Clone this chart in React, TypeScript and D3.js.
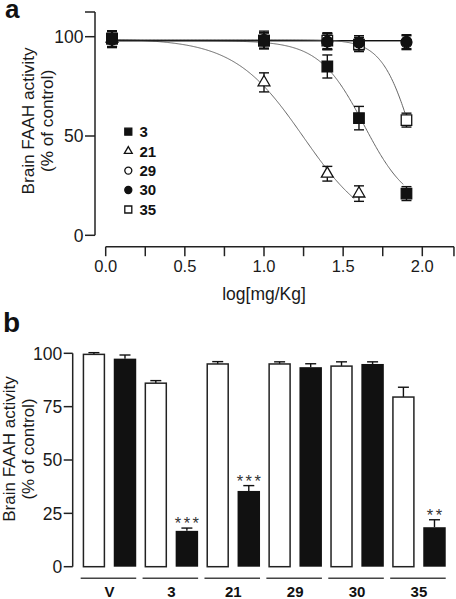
import React from "react";
import * as d3 from "d3";

// ---------- Panel a data ----------
const doses = [0.04, 1.0, 1.4, 1.6, 1.9];
const seriesNames = ["3", "21", "29", "30", "35"];
const s3 = [99, 98, 85, 59, 21];
const e3 = [4, 4, 5.8, 5.9, 3.5];
const s21 = [99, 77, 31, 21];
const e21 = [4, 4.8, 3.7, 3.9];
const s29 = [98.5, 98, 97.5, 97, 97];
const e29 = [4, 4, 4, 3.5, 3.5];
const s30 = [99, 98.5, 97.5, 97, 97.5];
const e30 = [4, 4.3, 4, 3.5, 3.5];
const s35 = [99, 98, 98, 96, 58];
const e35 = [4, 4, 4, 3.5, 3.5];
// fitted sigmoid (Hill) parameters per series
const fitTop = [98, 99, 98, 98, 98.5];
const fitBottom = [13, 0, 98, 98, 0];
const fitLogIC50 = [1.632, 1.249, 1, 1, 1.94];
const fitHill = [3.06, 1.99, 1, 1, 4.5];
const fitEnd = [1.88, 1.57, 1.91, 1.91, 1.89];
const xTicksA = [0, 0.25, 0.5, 0.75, 1.0, 1.25, 1.5, 1.75, 2.0, 2.2];
const xTickLabelsA = [0, 0.5, 1.0, 1.5, 2.0];
const yTicksA = [0, 50, 100];

// ---------- Panel b data ----------
const groups = ["V", "3", "21", "29", "30", "35"];
const whiteVals = [99.5, 86, 95, 95, 94, 79.5];
const whiteErr = [0.8, 1.2, 1.1, 1.0, 2.0, 4.6];
const blackVals = [97.5, 16.8, 35.5, 93.5, 95, 18.5];
const blackErr = [1.7, 1.3, 2.5, 1.6, 1.0, 3.5];
const stars = ["", "***", "***", "", "", "**"];
const yTicksB = [0, 25, 50, 75, 100];

const FONT = "'Liberation Sans', Arial, Helvetica, sans-serif";

type Marker = "fsq" | "tri" | "ocirc" | "fcirc" | "osq";
const markerOf: Marker[] = ["fsq", "tri", "ocirc", "fcirc", "osq"];

function symbolPath(m: Marker, scale: number) {
  if (m === "fsq" || m === "osq") return d3.symbol(d3.symbolSquare, 100 * scale * scale)()!;
  if (m === "tri") return d3.symbol(d3.symbolTriangle, 55 * scale * scale)()!;
  return d3.symbol(d3.symbolCircle, 80 * scale * scale)()!;
}

function MarkerShape({ m, x, y, scale }: { m: Marker; x: number; y: number; scale: number }) {
  const filled = m === "fsq" || m === "fcirc";
  return (
    <path
      d={symbolPath(m, scale)}
      transform={`translate(${x},${y})`}
      fill={filled ? "#111" : "#fff"}
      stroke="#111"
      strokeWidth={1.3}
    />
  );
}

export default function App() {
  // Panel a scales
  const xA = d3.scaleLinear().domain([0, 2]).range([105.7, 422.3]);
  const yA = d3.scaleLinear().domain([0, 100]).range([235.3, 36.7]);
  const axisYA = 246.7;
  const axisXA = 95;

  const seriesVals = [s3, s21, s29, s30, s35];
  const seriesErr = [e3, e21, e29, e30, e35];

  const hill = (i: number, x: number) =>
    fitBottom[i] + (fitTop[i] - fitBottom[i]) / (1 + Math.pow(10, (x - fitLogIC50[i]) * fitHill[i]));

  const line = d3
    .line<[number, number]>()
    .x((d) => xA(d[0]))
    .y((d) => yA(d[1]));

  const fitPaths = seriesNames.map((_, i) => {
    const pts: [number, number][] = d3.range(doses[0], fitEnd[i], 0.005).map((x) => [x, hill(i, x)]);
    pts.push([fitEnd[i], hill(i, fitEnd[i])]);
    return line(pts)!;
  });

  const drawOrder = [4, 2, 3, 1, 0];

  // Panel b scales
  const xB = d3.scaleBand<string>().domain(groups).range([78.5, 449.9]).paddingInner(0.135).paddingOuter(0.0675);
  const xSub = d3.scaleBand<string>().domain(["w", "b"]).range([0, xB.bandwidth()]).paddingInner(0.277);
  const yB = d3.scaleLinear().domain([0, 100]).range([566.7, 353.3]);
  const axisXB = 72.7;

  const legendY = d3.scalePoint<string>().domain(seriesNames).range([131.7, 209.5]);

  return (
    <svg
      width={456}
      height={599}
      style={{ position: "absolute", left: 0, top: 0, background: "#fff" }}
      fontFamily={FONT}
    >
      <rect width={456} height={599} fill="#fff" />
      {/* ---------- Panel a ---------- */}
      <text x={5} y={17.5} fontSize={26} fontWeight="bold" fill="#111">a</text>
      {/* y axis */}
      <line x1={axisXA} x2={axisXA} y1={12} y2={yA(0)} stroke="#222" strokeWidth={1.5} />
      <line x1={axisXA - 10} x2={axisXA} y1={12} y2={12} stroke="#222" strokeWidth={1.5} />
      {yTicksA.map((t) => (
        <g key={t}>
          <line x1={axisXA - 10} x2={axisXA} y1={yA(t)} y2={yA(t)} stroke="#222" strokeWidth={1.5} />
          <text x={axisXA - 11.5} y={yA(t)} dy="0.36em" textAnchor="end" fontSize={17.5} fill="#1a1a1a">
            {t}
          </text>
        </g>
      ))}
      {/* x axis */}
      <line x1={xA(0)} x2={xA(2.2)} y1={axisYA} y2={axisYA} stroke="#222" strokeWidth={1.5} />
      {xTicksA.map((t) => (
        <line key={t} x1={xA(t)} x2={xA(t)} y1={axisYA} y2={axisYA + 9.5} stroke="#222" strokeWidth={1.5} />
      ))}
      {xTickLabelsA.map((t) => (
        <text key={t} x={xA(t)} y={272} textAnchor="middle" fontSize={16.5} fill="#1a1a1a">
          {d3.format(".1f")(t)}
        </text>
      ))}
      <text x={264} y={300} textAnchor="middle" fontSize={17.5} fill="#1a1a1a">log[mg/Kg]</text>
      <g transform="translate(33.5,121) rotate(-90)">
        <text textAnchor="middle" fontSize={17.2} fill="#1a1a1a">Brain FAAH activity</text>
      </g>
      <g transform="translate(53,121) rotate(-90)">
        <text textAnchor="middle" fontSize={17.2} fill="#1a1a1a">(% of control)</text>
      </g>
      {/* fit curves */}
      {fitPaths.map((p, i) => (
        <path
          key={i}
          d={p}
          fill="none"
          stroke={i === 2 || i === 3 ? "#111" : "#666"}
          strokeWidth={i === 2 || i === 3 ? 1.4 : 1}
        />
      ))}
      {/* error bars and markers */}
      {drawOrder.map((si) => (
        <g key={si}>
          {seriesVals[si].map((v, j) => {
            const cx = xA(doses[j]);
            const e = seriesErr[si][j];
            return (
              <g key={j} stroke="#111" strokeWidth={1.4}>
                <line x1={cx} x2={cx} y1={yA(v - e)} y2={yA(v + e)} />
                <line x1={cx - 5} x2={cx + 5} y1={yA(v - e)} y2={yA(v - e)} />
                <line x1={cx - 5} x2={cx + 5} y1={yA(v + e)} y2={yA(v + e)} />
              </g>
            );
          })}
          {seriesVals[si].map((v, j) => (
            <MarkerShape key={j} m={markerOf[si]} x={xA(doses[j])} y={yA(v)} scale={1.05} />
          ))}
        </g>
      ))}
      {/* legend */}
      {seriesNames.map((n, i) => (
        <g key={n}>
          <MarkerShape m={markerOf[i]} x={128.3} y={legendY(n)!} scale={0.7} />
          <text x={139.5} y={legendY(n)!} dy="0.36em" fontSize={15} fontWeight="bold" fill="#111">
            {n}
          </text>
        </g>
      ))}

      {/* ---------- Panel b ---------- */}
      <text x={3} y={331.7} fontSize={28} fontWeight="bold" fill="#111">b</text>
      <line x1={axisXB} x2={axisXB} y1={yB(100)} y2={yB(0)} stroke="#222" strokeWidth={1.5} />
      {yTicksB.map((t) => (
        <g key={t}>
          <line x1={axisXB - 9} x2={axisXB} y1={yB(t)} y2={yB(t)} stroke="#222" strokeWidth={1.5} />
          <text x={axisXB - 10.5} y={yB(t)} dy="0.36em" textAnchor="end" fontSize={17.5} fill="#1a1a1a">
            {t}
          </text>
        </g>
      ))}
      <g transform="translate(15,449) rotate(-90)">
        <text textAnchor="middle" fontSize={17} fill="#1a1a1a">Brain FAAH activity</text>
      </g>
      <g transform="translate(34,449) rotate(-90)">
        <text textAnchor="middle" fontSize={17} fill="#1a1a1a">(% of control)</text>
      </g>
      {groups.map((g, i) => {
        const gx = xB(g)!;
        const bw = xSub.bandwidth();
        const wx = gx + xSub("w")!;
        const bx = gx + xSub("b")!;
        const wTop = yB(whiteVals[i]);
        const bTop = yB(blackVals[i]);
        const wErrY = yB(whiteVals[i] + whiteErr[i]);
        const bErrY = yB(blackVals[i] + blackErr[i]);
        return (
          <g key={g}>
            {/* error bars */}
            <g stroke="#111" strokeWidth={1.4}>
              <line x1={wx + bw / 2} x2={wx + bw / 2} y1={wTop} y2={wErrY} />
              <line x1={wx + bw / 2 - 5.5} x2={wx + bw / 2 + 5.5} y1={wErrY} y2={wErrY} />
              <line x1={bx + bw / 2} x2={bx + bw / 2} y1={bTop} y2={bErrY} />
              <line x1={bx + bw / 2 - 5.5} x2={bx + bw / 2 + 5.5} y1={bErrY} y2={bErrY} />
            </g>
            <rect
              x={wx + 0.75}
              y={wTop}
              width={bw - 1.5}
              height={yB(0) - wTop}
              fill="#fff"
              stroke="#222"
              strokeWidth={1.5}
            />
            <rect x={bx} y={bTop} width={bw} height={yB(0) - bTop} fill="#111" />
            {stars[i] && (
              <text
                x={bx + bw / 2 + 1.2}
                y={bErrY + 1}
                textAnchor="middle"
                fontSize={16.5}
                letterSpacing={2.4}
                fill="#333"
              >
                {stars[i]}
              </text>
            )}
            <line x1={gx - 2} x2={gx + xB.bandwidth()} y1={578.3} y2={578.3} stroke="#444" strokeWidth={1.4} />
            <text x={gx + xB.bandwidth() / 2} y={596.5} textAnchor="middle" fontSize={15} fontWeight="bold" fill="#111">
              {g}
            </text>
          </g>
        );
      })}
    </svg>
  );
}
